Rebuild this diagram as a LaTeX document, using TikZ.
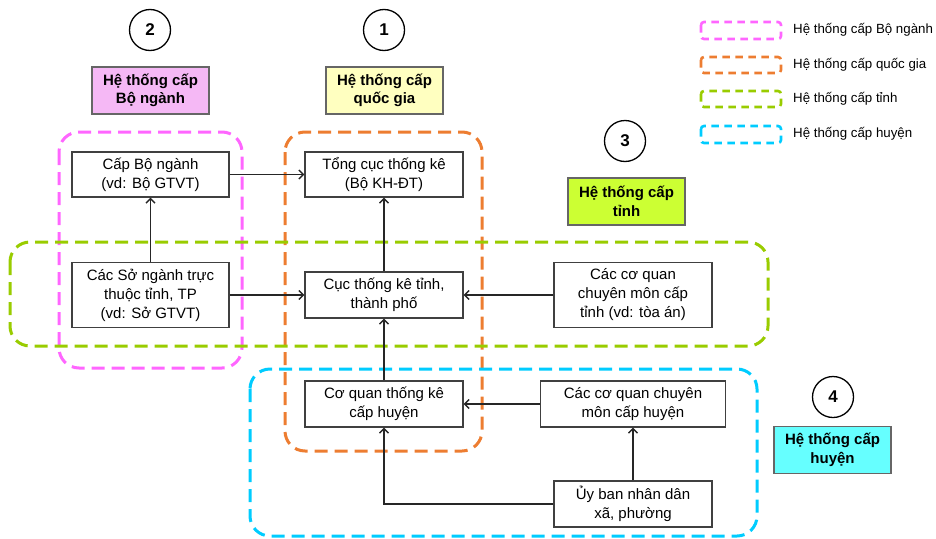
\documentclass[tikz,border=0pt]{standalone}
\usepackage{fontspec}
\setmainfont{Liberation Sans}
\usetikzlibrary{arrows.meta}

\definecolor{bopink}{HTML}{FF66FF}
\definecolor{qgorange}{HTML}{ED7D31}
\definecolor{tinhgreen}{HTML}{99CC00}
\definecolor{huyencyan}{HTML}{00CCFF}
\definecolor{pinkfill}{HTML}{F5B8F5}
\definecolor{yellowfill}{HTML}{FFFFC0}
\definecolor{greenfill}{HTML}{CCFF33}
\definecolor{cyanfill}{HTML}{66FFFF}
\definecolor{edge}{HTML}{404040}

\tikzset{
  region/.style={line width=3pt, dash pattern=on 13pt off 7pt, rounded corners=20pt},
  legbox/.style={line width=2.6pt, dash pattern=on 7.5pt off 5.5pt, rounded corners=3pt},
  unit/.style={draw=edge, line width=1.4pt, fill=white, align=center, inner sep=0pt,
    font=\fontsize{15}{19}\selectfont},
  tag/.style={draw=edge!80, line width=1.6pt, align=center, inner sep=0pt,
    minimum width=117pt, minimum height=47pt, font=\bfseries\fontsize{15}{18.5}\selectfont},
  num/.style={circle, draw=black, line width=1.3pt, minimum size=41pt, inner sep=0pt,
    font=\bfseries\fontsize{17}{20}\selectfont},
  legtext/.style={anchor=west, inner sep=0pt, font=\fontsize{13.3}{15}\selectfont},
  arr/.style={line width=1.4pt, draw=black!85, -{Straight Barb[length=4.5pt,width=9pt]}}
}

\begin{document}
\begin{tikzpicture}[x=1pt, y=-1pt]
\useasboundingbox (0,0) rectangle (936,538);

% dashed regions of the four levels
\draw[region, bopink] (59,132) rectangle (242,368);
\draw[region, qgorange] (285,132) rectangle (482,451);
\draw[region, tinhgreen] (10,242) rectangle (768,346);
\draw[region, huyencyan] (250,369) rectangle (757,536);

% numbered markers
\node[num] (n2) at (150,30) {2};
\node[num] (n1) at (384,30) {1};
\node[num] (n3) at (625,141) {3};
\node[num] (n4) at (833,397) {4};

% level tags
\node[tag, fill=pinkfill] (tagbo) at (150.5,90.5) {Hệ thống cấp\\Bộ ngành};
\node[tag, fill=yellowfill] (tagqg) at (384.5,90.5) {Hệ thống cấp\\quốc gia};
\node[tag, fill=greenfill] (tagtinh) at (626.5,201.5) {Hệ thống cấp\\tỉnh};
\node[tag, fill=cyanfill] (taghuyen) at (832.5,450) {Hệ thống cấp\\huyện};

% units
\node[unit, minimum width=157pt, minimum height=45pt] (bo) at (150.5,174.5) {Cấp Bộ ngành\\(vd: Bộ GTVT)};
\node[unit, minimum width=158pt, minimum height=45pt] (tong) at (384,174.5) {Tổng cục thống kê\\(Bộ KH-ĐT)};
\node[unit, minimum width=157pt, minimum height=65pt] (so) at (150.5,295) {Các Sở ngành trực\\thuộc tỉnh, TP\\(vd: Sở GTVT)};
\node[unit, minimum width=158pt, minimum height=46pt] (cuc) at (384,295) {Cục thống kê tỉnh,\\thành phố};
\node[unit, minimum width=158pt, minimum height=65pt] (cqcmt) at (633,295) {Các cơ quan\\chuyên môn cấp\\tỉnh (vd: tòa án)};
\node[unit, minimum width=158pt, minimum height=46pt] (cqtkh) at (384,404) {Cơ quan thống kê\\cấp huyện};
\node[unit, minimum width=185pt, minimum height=46pt] (cqcmh) at (633,404) {Các cơ quan chuyên\\môn cấp huyện};
\node[unit, minimum width=158pt, minimum height=46pt] (ubnd) at (633,504) {Ủy ban nhân dân\\xã, phường};

% reporting lines
\draw[arr] (bo.east) -- (tong.west);
\draw[arr] (so.north) -- (bo.south);
\draw[arr] (so.east) -- (cuc.west);
\draw[arr] (cuc.north) -- (tong.south);
\draw[arr] (cqcmt.west) -- (cuc.east);
\draw[arr] (cqtkh.north) -- (cuc.south);
\draw[arr] (cqcmh.west) -- (cqtkh.east);
\draw[arr] (ubnd.north) -- (cqcmh.south);
\draw[arr] (ubnd.west) -| (cqtkh.south);

% legend
\draw[legbox, bopink] (701,22) rectangle (781,39);
\draw[legbox, qgorange] (701,57) rectangle (781,73);
\draw[legbox, tinhgreen] (701,91) rectangle (781,107);
\draw[legbox, huyencyan] (701,126) rectangle (781,143);
\node[legtext] (lbo) at (793,30) {Hệ thống cấp Bộ ngành};
\node[legtext] (lqg) at (793,65) {Hệ thống cấp quốc gia};
\node[legtext] (ltinh) at (793,99) {Hệ thống cấp tỉnh};
\node[legtext] (lhuyen) at (793,134) {Hệ thống cấp huyện};
\end{tikzpicture}
\end{document}
